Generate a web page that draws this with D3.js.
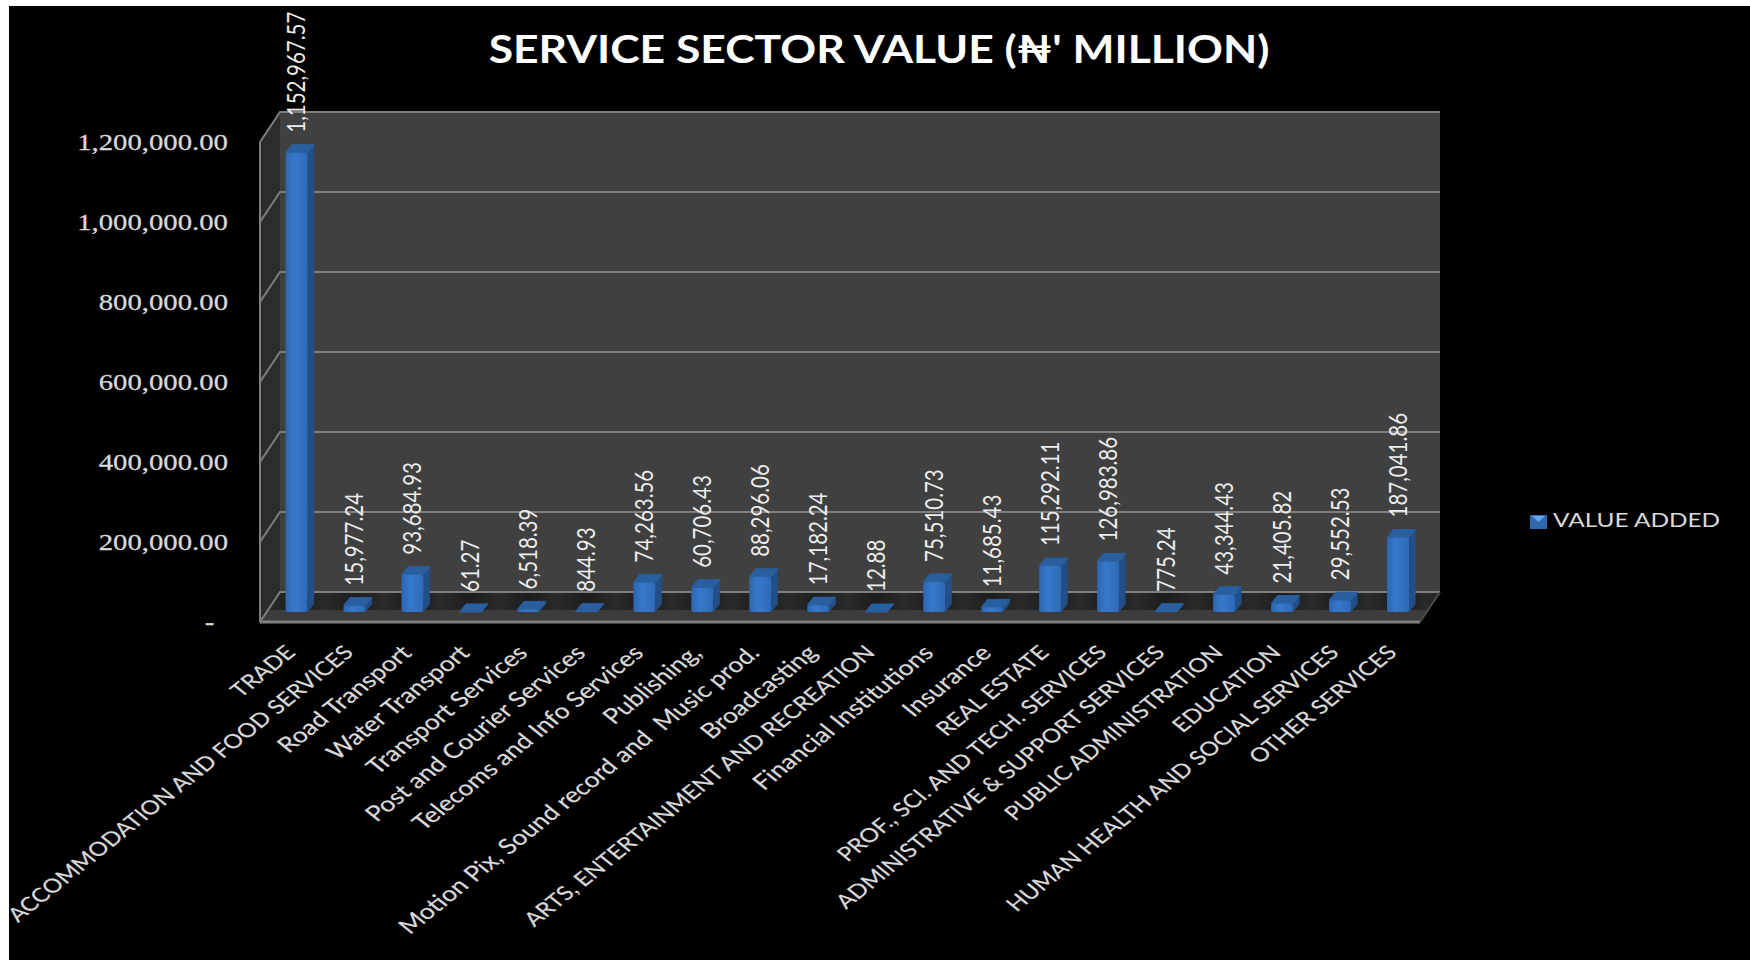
<!DOCTYPE html>
<html>
<head>
<meta charset="utf-8">
<title>Service sector value</title>
<script src="https://cdn.jsdelivr.net/npm/d3@7"></script>
<style>
  html, body { margin: 0; padding: 0; background: #fff; overflow: hidden; }
  svg { display: block; }
  text { white-space: pre; }
</style>
</head>
<body>
<svg id="chart" width="1750" height="960"></svg>
<script>
var categories = ['TRADE', 'ACCOMMODATION AND FOOD SERVICES', 'Road Transport', 'Water Transport',
    'Transport Services', 'Post and Courier Services', 'Telecoms and Info Services', 'Publishing,',
    'Motion Pix, Sound record and  Music prod.', 'Broadcasting', 'ARTS, ENTERTAINMENT AND RECREATION',
    'Financial Institutions', 'Insurance', 'REAL ESTATE', 'PROF., SCI. AND TECH. SERVICES',
    'ADMINISTRATIVE & SUPPORT SERVICES', 'PUBLIC ADMINISTRATION', 'EDUCATION',
    'HUMAN HEALTH AND SOCIAL SERVICES', 'OTHER SERVICES'];
var values = [1152967.57, 15977.24, 93684.93, 61.27, 6518.39, 844.93, 74263.56, 60706.43, 88296.06,
    17182.24, 12.88, 75510.73, 11685.43, 115292.11, 126983.86, 775.24, 43344.43, 21405.82, 29552.53, 187041.86];
var yTicks = [0, 200000, 400000, 600000, 800000, 1000000, 1200000];
var seriesName = 'VALUE ADDED';
var chartTitle = "SERVICE SECTOR VALUE (\u20A6' MILLION)";

/* the source picture is stretched sideways, so all text gets this too */
var stretch = 1.25;
var sans = 'Lato, "Open Sans", sans-serif';

var svg = d3.select('#chart');
var defs = svg.append('defs');

svg.append('rect').attr('x', 9).attr('y', 6).attr('width', 1741).attr('height', 954).attr('fill', '#000');

/* Scales: back wall, bar plane and front edge share the same value range */
var wall = { left: 280, right: 1440, top: 112, bottom: 592, dx: -20, dy: 30 };
var yBack = d3.scaleLinear().domain([0, 1200000]).range([wall.bottom, wall.top]);
var yBar = d3.scaleLinear().domain([0, 1200000]).range([612, 134]);
var yFront = d3.scaleLinear().domain([0, 1200000]).range([wall.bottom + wall.dy, wall.top + wall.dy]);
var x = d3.scalePoint().domain(categories).range([296.5, 1398]);
var barWidth = 22, depthX = 6.5, depthY = -8;

/* Gradients */
var frontGrad = defs.append('linearGradient').attr('id', 'front');
frontGrad.append('stop').attr('offset', '0').attr('stop-color', '#2c66ae');
frontGrad.append('stop').attr('offset', '0.4').attr('stop-color', '#3679cc');
frontGrad.append('stop').attr('offset', '1').attr('stop-color', '#2d6ab6');

var floorGrad = defs.append('linearGradient').attr('id', 'floorBand')
    .attr('gradientUnits', 'userSpaceOnUse').attr('x1', 296).attr('x2', 354).attr('y1', 0).attr('y2', 0)
    .attr('spreadMethod', 'repeat');
floorGrad.append('stop').attr('offset', '0').attr('stop-color', '#1d1d1d');
floorGrad.append('stop').attr('offset', '0.5').attr('stop-color', '#2a2a2a');
floorGrad.append('stop').attr('offset', '1').attr('stop-color', '#1d1d1d');

defs.append('filter').attr('id', 'soft').append('feGaussianBlur').attr('stdDeviation', 0.7);

var poly = function (pts) { return pts.map(function (p) { return p.join(','); }).join(' '); };

/* Walls and floor */
svg.append('polygon').attr('fill', '#404040')
    .attr('points', poly([[wall.left, wall.top], [wall.right, wall.top], [wall.right, wall.bottom], [wall.left, wall.bottom]]));
svg.append('polygon').attr('fill', '#2c2c2c')
    .attr('points', poly([[wall.left, wall.top], [wall.left, wall.bottom], [wall.left + wall.dx, wall.bottom + wall.dy], [wall.left + wall.dx, wall.top + wall.dy]]));
svg.append('polygon').attr('fill', '#3c3c3c')
    .attr('points', poly([[wall.left, wall.bottom], [wall.right, wall.bottom], [wall.right + wall.dx, wall.bottom + wall.dy], [wall.left + wall.dx, wall.bottom + wall.dy]]));
svg.append('polygon').attr('fill', 'url(#floorBand)')
    .attr('points', poly([[wall.left, wall.bottom], [wall.right, wall.bottom], [wall.right - 12, 610], [wall.left - 12, 610]]));

/* Gridlines */
var grid = svg.append('g').attr('fill', 'none').attr('stroke', '#7f7f7f').attr('stroke-width', 2);
grid.selectAll('polyline').data(yTicks).join('polyline')
    .attr('points', function (d) {
        return poly([[wall.left + wall.dx, yFront(d)], [wall.left, yBack(d)], [wall.right, yBack(d)]]);
    });
grid.append('line').attr('x1', wall.left + wall.dx).attr('x2', wall.left + wall.dx)
    .attr('y1', yFront(1200000)).attr('y2', yFront(0));
grid.append('line').attr('x1', wall.left + wall.dx).attr('x2', wall.right + wall.dx)
    .attr('y1', yFront(0)).attr('y2', yFront(0)).attr('stroke-width', 3);
grid.append('line').attr('x1', wall.right).attr('x2', wall.right + wall.dx)
    .attr('y1', yBack(0)).attr('y2', yFront(0)).attr('stroke', '#4a4a4a');

/* Bars */
var bars = svg.selectAll('g.bar').data(categories).join('g').attr('class', 'bar').attr('filter', 'url(#soft)');
bars.append('polygon').attr('fill', '#234f87').attr('points', function (d, i) {
    var l = x(d) - barWidth / 2, r = l + barWidth, t = yBar(values[i]);
    return poly([[r, t], [r + depthX, t + depthY], [r + depthX, yBar(0) + depthY], [r, yBar(0)]]);
});
bars.append('polygon').attr('fill', '#2a5f9f').attr('stroke', '#2a5f9f').attr('stroke-linejoin', 'round')
    .attr('points', function (d, i) {
        var l = x(d) - barWidth / 2, r = l + barWidth, t = yBar(values[i]);
        return poly([[l, t], [l + depthX, t + depthY], [r + depthX, t + depthY], [r, t]]);
    });
bars.append('rect').attr('fill', 'url(#front)').attr('rx', 2.5)
    .attr('x', function (d) { return x(d) - barWidth / 2; })
    .attr('width', barWidth)
    .attr('y', function (d, i) { return yBar(values[i]); })
    .attr('height', function (d, i) { return yBar(0) - yBar(values[i]); });

/* Value labels */
var fmt = d3.format(',.2f');
svg.selectAll('text.value').data(categories).join('text').attr('class', 'value')
    .attr('transform', function (d, i) {
        return 'translate(' + [x(d), yBar(values[i]) - 20] + ') scale(' + stretch + ',1) rotate(-90)';
    })
    .attr('dy', '0.35em')
    .attr('font-family', sans).attr('font-size', 20.5).attr('fill', '#ececec')
    .text(function (d, i) { return fmt(values[i]); });

/* Value axis */
var axis = svg.append('g')
    .attr('transform', 'translate(228,0) scale(' + stretch + ',1)')
    .call(d3.axisLeft(yFront).tickValues(yTicks).tickSize(0).tickPadding(0)
        .tickFormat(function (d) { return d === 0 ? '-' : fmt(d); }));
axis.select('.domain').remove();
axis.selectAll('text')
    .attr('font-family', '"Liberation Serif", serif').attr('font-size', 23).attr('fill', '#d9d9d9')
    .attr('stroke', '#d9d9d9').attr('stroke-width', 0.25)
    .attr('x', function (d) { return d === 0 ? -11 : 0; });

/* Category labels: Lato lowercase runs small next to its capitals, so mixed case goes up a bit */
svg.selectAll('text.cat').data(categories).join('text').attr('class', 'cat')
    .attr('transform', function (d) {
        return 'translate(' + [x(d) - 6, 649] + ') scale(' + stretch + ',1) rotate(-45)';
    })
    .attr('text-anchor', 'end')
    .attr('dy', '0.35em')
    .attr('font-family', sans).attr('fill', '#d9d9d9')
    .attr('font-size', function (d) { return d === d.toUpperCase() ? 19.5 : 21.3; })
    .attr('stroke', '#d9d9d9').attr('stroke-width', 0.2)
    .text(function (d) { return d; });

/* Title: Lato bold runs wider than the original face, so less stretch here */
svg.append('text')
    .attr('transform', 'translate(879,63) scale(1.17,1)')
    .attr('text-anchor', 'middle')
    .attr('font-family', sans).attr('font-weight', 700).attr('font-size', 38).attr('fill', '#fff')
    .text(chartTitle);

/* Legend */
var legend = svg.append('g').attr('transform', 'translate(1530,515)');
legend.append('rect').attr('width', 17).attr('height', 14).attr('fill', '#2f68ae');
legend.append('polygon').attr('points', poly([[2, 1], [15, 1], [8.5, 7]])).attr('fill', '#64a8ee');
legend.append('text')
    .attr('transform', 'translate(23,11.5) scale(' + stretch + ',1)')
    .attr('font-family', sans).attr('font-size', 19.5).attr('fill', '#d9d9d9')
    .text(seriesName);
</script>
</body>
</html>
